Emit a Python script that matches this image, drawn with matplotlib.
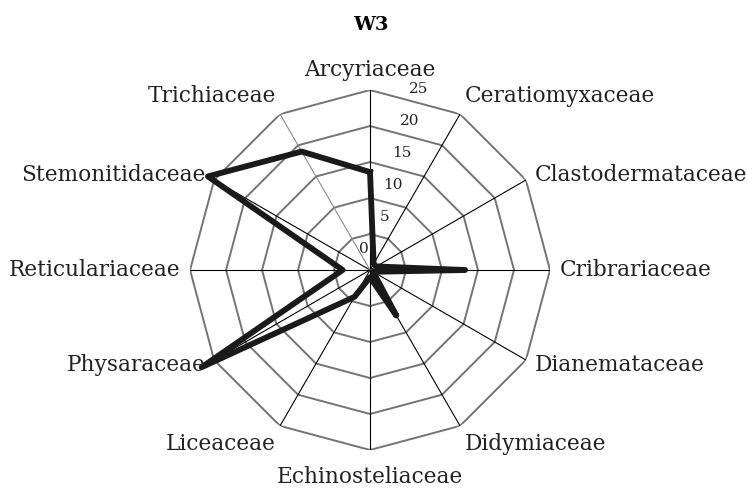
import numpy as np
import matplotlib.pyplot as plt

categories = ["Arcyriaceae", "Ceratiomyxaceae", "Clastodermataceae", "Cribrariaceae",
              "Dianemataceae", "Didymiaceae", "Echinosteliaceae", "Liceaceae",
              "Physaraceae", "Reticulariaceae", "Stemonitidaceae", "Trichiaceae"]
values = [13.6, 1.0, 1.0, 13.2, 0.5, 7.3, 1.0, 4.3, 27.0, 3.8, 26.0, 19.0]
ring_levels = [5, 10, 15, 20, 25]
tick_labels = [0, 5, 10, 15, 20, 25]

plt.rcParams["font.family"] = "DejaVu Serif"

fig = plt.figure(figsize=(7.47, 4.9), dpi=100)
ax = fig.add_axes([0.2544, 0.0816, 0.4819, 0.7347], projection="polar")
ax.set_theta_zero_location("N")
ax.set_theta_direction(-1)

n = len(categories)
angles = np.linspace(0, 2 * np.pi, n, endpoint=False)
closed = np.append(angles, angles[0])

# polygon rings
for lev in ring_levels:
    ax.plot(closed, [lev] * (n + 1), color="#737373", lw=1.4, zorder=1)

# spokes
for i, a in enumerate(angles):
    col = "#8a8a8a" if categories[i] == "Trichiaceae" else "black"
    ax.plot([a, a], [0, 25], color=col, lw=0.8, zorder=2)

# data
vals = values + values[:1]
ax.plot(closed, vals, color="#1a1a1a", lw=4.2, zorder=3, clip_on=False)

ax.set_ylim(0, 25)
ax.grid(False)
ax.set_xticks([])
ax.set_yticks([])
ax.spines["polar"].set_visible(False)

# category labels
for a, name in zip(angles, categories):
    s, c = np.sin(a), np.cos(a)
    ha = "left" if s > 0.1 else ("right" if s < -0.1 else "center")
    va = "bottom" if c > 0.7 else ("top" if c < -0.7 else "center")
    if c > 0.99:
        r = 26.3
    elif c < -0.99:
        r = 27.2
    elif abs(c) > 0.7:
        r = 26.2
    else:
        r = 26.4
    ax.text(a, r, name, ha=ha, va=va, fontsize=15.6, color="#222222")

# radial tick labels
for v in tick_labels:
    th = np.deg2rad(15) if v > 0 else np.deg2rad(-16)
    ax.text(th, 3 + 0.92 * v, str(v), ha="center", va="center", fontsize=11,
            color="#222222")

fig.text(0.497, 0.948, "W3", ha="center", va="center", fontsize=14, fontweight="bold")

fig.savefig("out.png", dpi=100, facecolor="white")
